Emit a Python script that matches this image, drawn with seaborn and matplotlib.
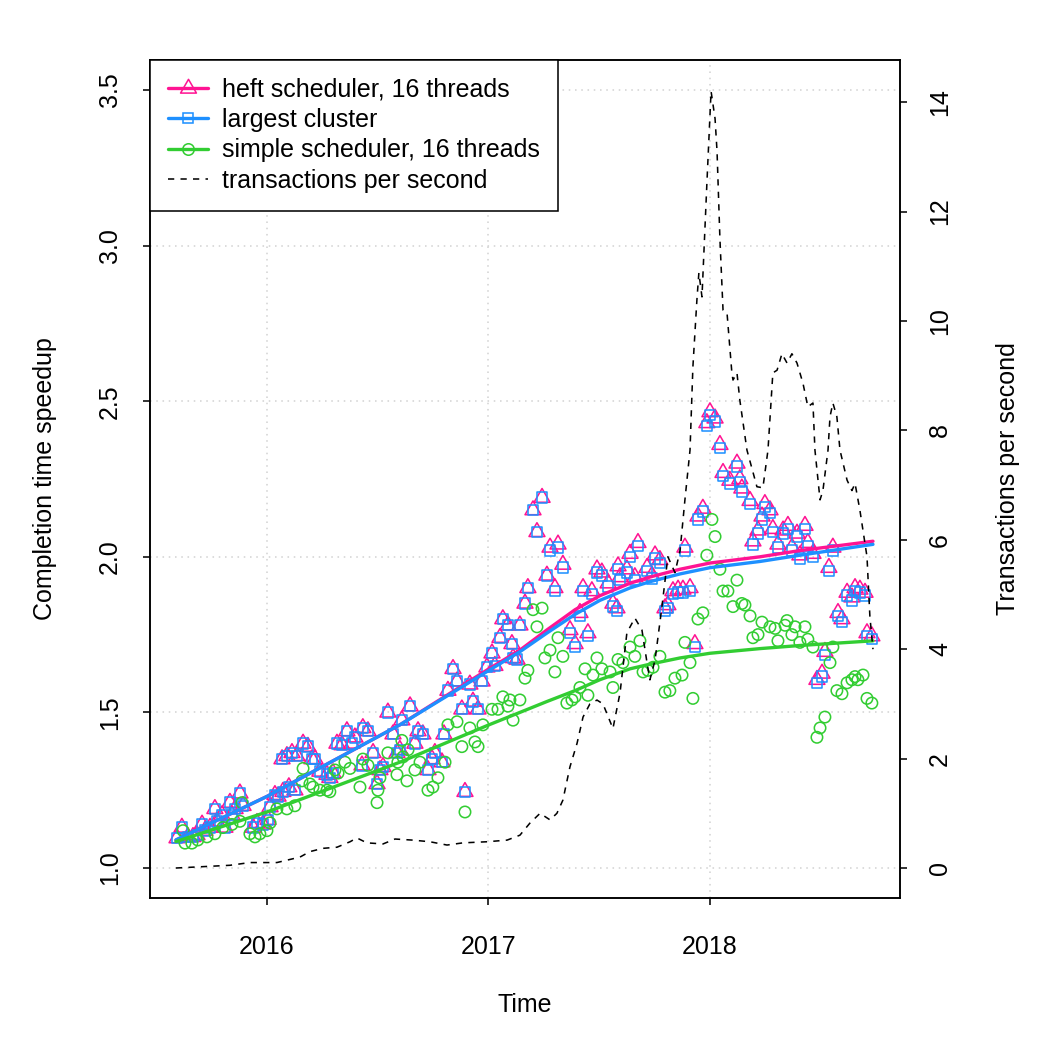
import numpy as np
import pandas as pd
import matplotlib
matplotlib.use("Agg")
import matplotlib.pyplot as plt
from matplotlib.path import Path
from matplotlib.lines import Line2D
import seaborn as sns

sns.set_style("white")
plt.rcParams['font.family'] = ['Liberation Sans', 'DejaVu Sans']
plt.rcParams['font.size'] = 12
for k in ['text.color', 'axes.labelcolor', 'xtick.color', 'ytick.color']:
    plt.rcParams[k] = 'black'

# ---------------- data (decimal years) ----------------
heft_t = [2015.594, 2015.616, 2015.643, 2015.666, 2015.684, 2015.707, 2015.720, 2015.743, 2015.765, 2015.774,
          2015.797, 2015.810, 2015.833, 2015.842, 2015.856, 2015.878, 2015.892, 2015.937, 2015.955, 2015.982,
          2016.005, 2016.014, 2016.036, 2016.050, 2016.068, 2016.072, 2016.090, 2016.099, 2016.113, 2016.126,
          2016.135, 2016.163, 2016.185, 2016.203, 2016.217, 2016.239, 2016.271, 2016.284, 2016.298, 2016.316,
          2016.339, 2016.361, 2016.384, 2016.397, 2016.429, 2016.433, 2016.456, 2016.479, 2016.497, 2016.510,
          2016.524, 2016.546, 2016.569, 2016.587, 2016.600, 2016.609, 2016.646, 2016.668, 2016.682, 2016.704,
          2016.727, 2016.745, 2016.758, 2016.790, 2016.799, 2016.817, 2016.840, 2016.858, 2016.880, 2016.894,
          2016.916, 2016.930, 2016.953, 2016.971, 2016.993, 2017.016, 2017.029, 2017.052, 2017.065, 2017.088,
          2017.106, 2017.111, 2017.129, 2017.142, 2017.165, 2017.178, 2017.201, 2017.219, 2017.242, 2017.264,
          2017.278, 2017.300, 2017.314, 2017.336, 2017.368, 2017.391, 2017.413, 2017.427, 2017.449, 2017.467,
          2017.490, 2017.512, 2017.540, 2017.562, 2017.580, 2017.585, 2017.594, 2017.625, 2017.639, 2017.661,
          2017.675, 2017.716, 2017.738, 2017.752, 2017.774, 2017.797, 2017.810, 2017.833, 2017.856, 2017.878,
          2017.887, 2017.910, 2017.932, 2017.946, 2017.968, 2017.986, 2018.000, 2018.023, 2018.045, 2018.059,
          2018.090, 2018.122, 2018.135, 2018.144, 2018.181, 2018.194, 2018.217, 2018.235, 2018.248, 2018.271,
          2018.284, 2018.307, 2018.330, 2018.352, 2018.370, 2018.393, 2018.406, 2018.429, 2018.442, 2018.465,
          2018.483, 2018.506, 2018.519, 2018.537, 2018.555, 2018.578, 2018.596, 2018.619, 2018.641, 2018.655,
          2018.677, 2018.700, 2018.709, 2018.731]

heft_v = [1.096, 1.13, 1.10, 1.10, 1.106, 1.14, 1.12, 1.13, 1.19, 1.15,
          1.17, 1.13, 1.21, 1.17, 1.19, 1.24, 1.20, 1.13, 1.145, 1.14,
          1.155, 1.196, 1.235, 1.23, 1.35, 1.245, 1.36, 1.26, 1.37, 1.25,
          1.36, 1.40, 1.39, 1.35, 1.35, 1.31, 1.30, 1.29, 1.305, 1.40,
          1.395, 1.44, 1.40, 1.42, 1.33, 1.45, 1.44, 1.37, 1.27, 1.315,
          1.325, 1.50, 1.43, 1.37, 1.38, 1.475, 1.52, 1.40, 1.44, 1.43,
          1.315, 1.35, 1.37, 1.34, 1.43, 1.57, 1.64, 1.60, 1.51, 1.245,
          1.59, 1.535, 1.51, 1.60, 1.645, 1.69, 1.65, 1.74, 1.80, 1.78,
          1.72, 1.675, 1.67, 1.78, 1.85, 1.90, 2.15, 2.08, 2.19, 1.94,
          2.03, 1.90, 2.04, 1.975, 1.765, 1.72, 1.82, 1.90, 1.755, 1.89,
          1.96, 1.95, 1.915, 1.85, 1.835, 1.97, 1.935, 1.96, 2.01, 1.935,
          2.045, 1.965, 1.94, 2.005, 1.99, 1.835, 1.845, 1.89, 1.895, 1.895,
          2.03, 1.90, 1.72, 2.13, 2.155, 2.43, 2.465, 2.445, 2.36, 2.27,
          2.245, 2.30, 2.25, 2.22, 2.18, 2.05, 2.085, 2.13, 2.17, 2.15,
          2.09, 2.04, 2.085, 2.10, 2.03, 2.075, 2.005, 2.10, 2.045, 2.01,
          1.605, 1.625, 1.695, 1.965, 2.03, 1.82, 1.80, 1.885, 1.87, 1.90,
          1.895, 1.885, 1.755, 1.745]

largest_v = [1.096, 1.13, 1.10, 1.10, 1.106, 1.14, 1.12, 1.13, 1.19, 1.15,
             1.17, 1.13, 1.21, 1.17, 1.19, 1.24, 1.20, 1.13, 1.145, 1.14,
             1.155, 1.196, 1.235, 1.23, 1.35, 1.245, 1.36, 1.26, 1.37, 1.25,
             1.36, 1.40, 1.39, 1.35, 1.35, 1.31, 1.30, 1.29, 1.305, 1.40,
             1.395, 1.44, 1.40, 1.42, 1.33, 1.45, 1.44, 1.37, 1.27, 1.315,
             1.325, 1.50, 1.43, 1.37, 1.38, 1.475, 1.52, 1.40, 1.44, 1.43,
             1.315, 1.35, 1.37, 1.34, 1.43, 1.57, 1.64, 1.60, 1.51, 1.245,
             1.59, 1.535, 1.51, 1.60, 1.645, 1.69, 1.65, 1.74, 1.80, 1.78,
             1.72, 1.675, 1.67, 1.78, 1.85, 1.90, 2.15, 2.08, 2.19, 1.94,
             2.02, 1.89, 2.03, 1.965, 1.755, 1.71, 1.81, 1.89, 1.745, 1.88,
             1.95, 1.94, 1.905, 1.84, 1.825, 1.96, 1.925, 1.95, 2.00, 1.925,
             2.035, 1.955, 1.93, 1.995, 1.98, 1.825, 1.835, 1.88, 1.885, 1.885,
             2.02, 1.89, 1.71, 2.12, 2.145, 2.42, 2.455, 2.435, 2.35, 2.26,
             2.235, 2.29, 2.24, 2.21, 2.17, 2.04, 2.075, 2.12, 2.16, 2.14,
             2.08, 2.03, 2.075, 2.09, 2.02, 2.065, 1.995, 2.09, 2.035, 2.00,
             1.595, 1.615, 1.685, 1.955, 2.02, 1.81, 1.79, 1.875, 1.86, 1.89,
             1.885, 1.875, 1.745, 1.735]

simple_t = [2015.621, 2015.630, 2015.661, 2015.688, 2015.729, 2015.765, 2015.801, 2015.842, 2015.878, 2015.887,
            2015.923, 2015.946, 2015.968, 2016.000, 2016.014, 2016.045, 2016.090, 2016.126, 2016.158, 2016.163,
            2016.194, 2016.208, 2016.239, 2016.271, 2016.284, 2016.307, 2016.321, 2016.352, 2016.375, 2016.420,
            2016.433, 2016.456, 2016.497, 2016.501, 2016.510, 2016.546, 2016.587, 2016.591, 2016.609, 2016.614,
            2016.632, 2016.637, 2016.668, 2016.691, 2016.727, 2016.749, 2016.772, 2016.804, 2016.817, 2016.858,
            2016.880, 2016.894, 2016.916, 2016.939, 2016.953, 2016.975, 2017.016, 2017.043, 2017.065, 2017.088,
            2017.097, 2017.111, 2017.142, 2017.165, 2017.178, 2017.201, 2017.219, 2017.242, 2017.255, 2017.278,
            2017.300, 2017.314, 2017.336, 2017.354, 2017.377, 2017.391, 2017.413, 2017.436, 2017.449, 2017.472,
            2017.490, 2017.512, 2017.549, 2017.562, 2017.585, 2017.607, 2017.639, 2017.661, 2017.684, 2017.698,
            2017.720, 2017.743, 2017.774, 2017.797, 2017.819, 2017.842, 2017.874, 2017.887, 2017.910, 2017.923,
            2017.946, 2017.968, 2017.986, 2018.009, 2018.023, 2018.045, 2018.059, 2018.081, 2018.104, 2018.122,
            2018.144, 2018.158, 2018.181, 2018.194, 2018.217, 2018.235, 2018.271, 2018.294, 2018.307, 2018.339,
            2018.348, 2018.370, 2018.384, 2018.406, 2018.429, 2018.442, 2018.465, 2018.483, 2018.497, 2018.519,
            2018.542, 2018.555, 2018.573, 2018.596, 2018.619, 2018.641, 2018.655, 2018.668, 2018.691, 2018.709,
            2018.731]

simple_v = [1.12, 1.08, 1.08, 1.09, 1.10, 1.11, 1.13, 1.14, 1.15, 1.21,
            1.11, 1.10, 1.11, 1.12, 1.145, 1.19, 1.19, 1.20, 1.28, 1.32,
            1.27, 1.26, 1.25, 1.25, 1.245, 1.315, 1.305, 1.34, 1.32, 1.26,
            1.35, 1.33, 1.21, 1.25, 1.29, 1.37, 1.30, 1.34, 1.41, 1.357,
            1.28, 1.38, 1.315, 1.34, 1.25, 1.26, 1.29, 1.34, 1.46, 1.47,
            1.39, 1.18, 1.45, 1.405, 1.39, 1.46, 1.51, 1.51, 1.55, 1.52,
            1.54, 1.475, 1.54, 1.61, 1.635, 1.83, 1.775, 1.835, 1.675, 1.70,
            1.63, 1.74, 1.68, 1.53, 1.54, 1.55, 1.58, 1.64, 1.555, 1.62,
            1.675, 1.64, 1.63, 1.58, 1.67, 1.66, 1.71, 1.68, 1.73, 1.63,
            1.635, 1.645, 1.68, 1.565, 1.57, 1.61, 1.62, 1.725, 1.66, 1.545,
            1.80, 1.82, 2.005, 2.12, 2.065, 1.96, 1.89, 1.89, 1.84, 1.925,
            1.85, 1.845, 1.81, 1.74, 1.75, 1.79, 1.775, 1.77, 1.73, 1.78,
            1.795, 1.75, 1.775, 1.725, 1.775, 1.735, 1.71, 1.42, 1.45, 1.485,
            1.66, 1.71, 1.57, 1.56, 1.595, 1.605, 1.615, 1.605, 1.62, 1.545,
            1.53]

trend_t = [2015.589, 2016.0, 2016.600, 2017.002, 2017.142, 2017.264, 2017.391, 2017.503,
           2017.639, 2017.729, 2017.865, 2018.0, 2018.226, 2018.406, 2018.736]
heft_trend = [1.09, 1.23, 1.46, 1.64, 1.70, 1.765, 1.83, 1.875, 1.915, 1.935, 1.96, 1.98, 2.00, 2.02, 2.05]
largest_trend = [1.09, 1.23, 1.46, 1.635, 1.695, 1.755, 1.815, 1.86, 1.90, 1.92, 1.945, 1.965, 1.985, 2.005, 2.04]
simple_trend = [1.085, 1.18, 1.34, 1.46, 1.50, 1.535, 1.57, 1.605, 1.64, 1.655, 1.675, 1.69, 1.705, 1.715, 1.73]

tps_t = [2015.589, 2015.833, 2015.923, 2016.000, 2016.045, 2016.149, 2016.194, 2016.253, 2016.316, 2016.375,
         2016.406, 2016.451, 2016.524, 2016.578, 2016.659, 2016.736, 2016.813, 2016.885, 2016.993, 2017.084,
         2017.142, 2017.187, 2017.233, 2017.278, 2017.309, 2017.336, 2017.368, 2017.400, 2017.427, 2017.458,
         2017.490, 2017.517, 2017.562, 2017.594, 2017.625, 2017.661, 2017.693, 2017.716, 2017.729, 2017.752,
         2017.783, 2017.810, 2017.842, 2017.865, 2017.887, 2017.910, 2017.923, 2017.941, 2017.950, 2017.964,
         2017.986, 2018.005, 2018.023, 2018.032, 2018.045, 2018.059, 2018.077, 2018.099, 2018.104, 2018.122,
         2018.135, 2018.167, 2018.212, 2018.239, 2018.262, 2018.284, 2018.303, 2018.325, 2018.348, 2018.370,
         2018.393, 2018.420, 2018.442, 2018.465, 2018.474, 2018.497, 2018.510, 2018.533, 2018.542, 2018.555,
         2018.573, 2018.587, 2018.619, 2018.641, 2018.655, 2018.677, 2018.709, 2018.722, 2018.736]
tps_v = [0.0, 0.05, 0.1, 0.1, 0.1, 0.2, 0.3, 0.36, 0.38, 0.48,
         0.55, 0.46, 0.44, 0.53, 0.51, 0.48, 0.42, 0.46, 0.48, 0.51,
         0.6, 0.82, 1.0, 0.88, 1.0, 1.24, 1.85, 2.28, 2.76, 3.0,
         3.07, 3.0, 2.55, 3.2, 4.3, 4.57, 4.35, 3.75, 3.44, 3.8,
         4.77, 5.69, 5.4, 5.8, 6.73, 7.64, 9.16, 10.38, 10.88, 10.44,
         12.5, 14.2, 13.7, 13.1, 11.5, 10.2, 10.15, 9.05, 8.92, 9.05,
         8.55, 7.64, 6.97, 6.95, 7.64, 9.05, 9.1, 9.4, 9.23, 9.4,
         9.23, 8.86, 8.43, 8.5, 7.64, 6.73, 6.9, 7.64, 8.25, 8.5,
         8.25, 7.64, 7.09, 6.9, 7.03, 6.54, 5.69, 4.6, 4.0]

labels = ["heft scheduler, 16 threads", "largest cluster",
          "simple scheduler, 16 threads", "transactions per second"]
colors = ["deeppink", "dodgerblue", "limegreen", "black"]
year_ticks = [2016, 2017, 2018]

# ---------------- figure ----------------
fig = plt.figure(figsize=(7, 7), dpi=150)
ax = fig.add_axes([150/1050, 1-898/1050, 750/1050, 838/1050])
ax2 = ax.twinx()

tri = Path([(0, 1), (-0.866, -0.5), (0.866, -0.5), (0, 1)],
           [Path.MOVETO, Path.LINETO, Path.LINETO, Path.CLOSEPOLY])

ax.set_axisbelow(True)
ax.grid(True, color='lightgray', linestyle=(0, (1, 3)), linewidth=0.75)

sns.scatterplot(x=heft_t, y=heft_v, ax=ax, marker=tri, s=78, facecolor='none',
                edgecolor=colors[0], linewidth=0.75, zorder=3)
sns.scatterplot(x=heft_t, y=largest_v, ax=ax, marker='s', s=25, facecolor='none',
                edgecolor=colors[1], linewidth=0.75, zorder=3)
sns.scatterplot(x=simple_t, y=simple_v, ax=ax, marker='o', s=30, facecolor='none',
                edgecolor=colors[2], linewidth=0.75, zorder=3)

sns.lineplot(x=trend_t, y=heft_trend, ax=ax, color=colors[0], linewidth=1.6, zorder=4)
sns.lineplot(x=trend_t, y=largest_trend, ax=ax, color=colors[1], linewidth=1.6, zorder=4)
sns.lineplot(x=trend_t, y=simple_trend, ax=ax, color=colors[2], linewidth=1.6, zorder=4)

sns.lineplot(x=tps_t, y=tps_v, ax=ax2, color='black', linewidth=0.75,
             linestyle=(0, (4, 4)))

ax.set_xlim(2015.472, 2018.858)
ax.set_ylim(0.9036, 3.5964)
ax2.set_ylim(-0.548, 14.77)
ax.set_xticks(year_ticks)
ax.set_xticklabels([str(y) for y in year_ticks])
ax.set_yticks([1.0, 1.5, 2.0, 2.5, 3.0, 3.5])
ax.set_yticklabels(["1.0", "1.5", "2.0", "2.5", "3.0", "3.5"])
ax2.set_yticks(list(range(0, 15, 2)))
ax2.set_yticklabels([str(v) for v in range(0, 15, 2)])

for a in (ax, ax2):
    a.set_xlabel("")
    a.set_ylabel("")
    for sp in a.spines.values():
        sp.set_color("black")
        sp.set_linewidth(0.75)

ax.tick_params(axis='x', direction='out', length=3.4, width=0.75, pad=14.5, labelsize=12,
               bottom=True, colors='black')
ax.tick_params(axis='y', direction='out', length=3.4, width=0.75, pad=10, labelsize=12,
               left=True, labelrotation=90, colors='black')
ax2.tick_params(axis='y', direction='out', length=3.4, width=0.75, pad=10, labelsize=12,
                right=True, labelrotation=90, colors='black')
for lab in ax.get_yticklabels() + ax2.get_yticklabels():
    lab.set_va('center')

fig.text(525/1050, 1-1005/1050, "Time", ha='center', va='center', fontsize=12, color='black')
fig.text(45/1050, 1-479/1050, "Completion time speedup", ha='center', va='center',
         rotation=90, fontsize=12, color='black')
fig.text(1008/1050, 1-479/1050, "Transactions per second", ha='center', va='center',
         rotation=90, fontsize=12, color='black')

handles = [
    Line2D([], [], color=colors[0], lw=1.6, marker=tri, markersize=8.8,
           markerfacecolor='none', markeredgecolor=colors[0], markeredgewidth=0.75),
    Line2D([], [], color=colors[1], lw=1.6, marker='s', markersize=5.0,
           markerfacecolor='none', markeredgecolor=colors[1], markeredgewidth=0.75),
    Line2D([], [], color=colors[2], lw=1.6, marker='o', markersize=5.5,
           markerfacecolor='none', markeredgecolor=colors[2], markeredgewidth=0.75),
    Line2D([], [], color='black', lw=0.75, linestyle=(0, (4, 4))),
]
leg = ax2.legend(handles, labels, loc='upper left', bbox_to_anchor=(0, 1),
                 borderaxespad=0, frameon=True, fancybox=False, edgecolor='black',
                 framealpha=1, handlelength=1.6, handletextpad=0.6, labelspacing=0.26,
                 borderpad=0.7, fontsize=12, numpoints=1)
leg.get_frame().set_linewidth(0.75)
for t in leg.get_texts():
    t.set_color('black')

fig.savefig("out.png", dpi=150)
